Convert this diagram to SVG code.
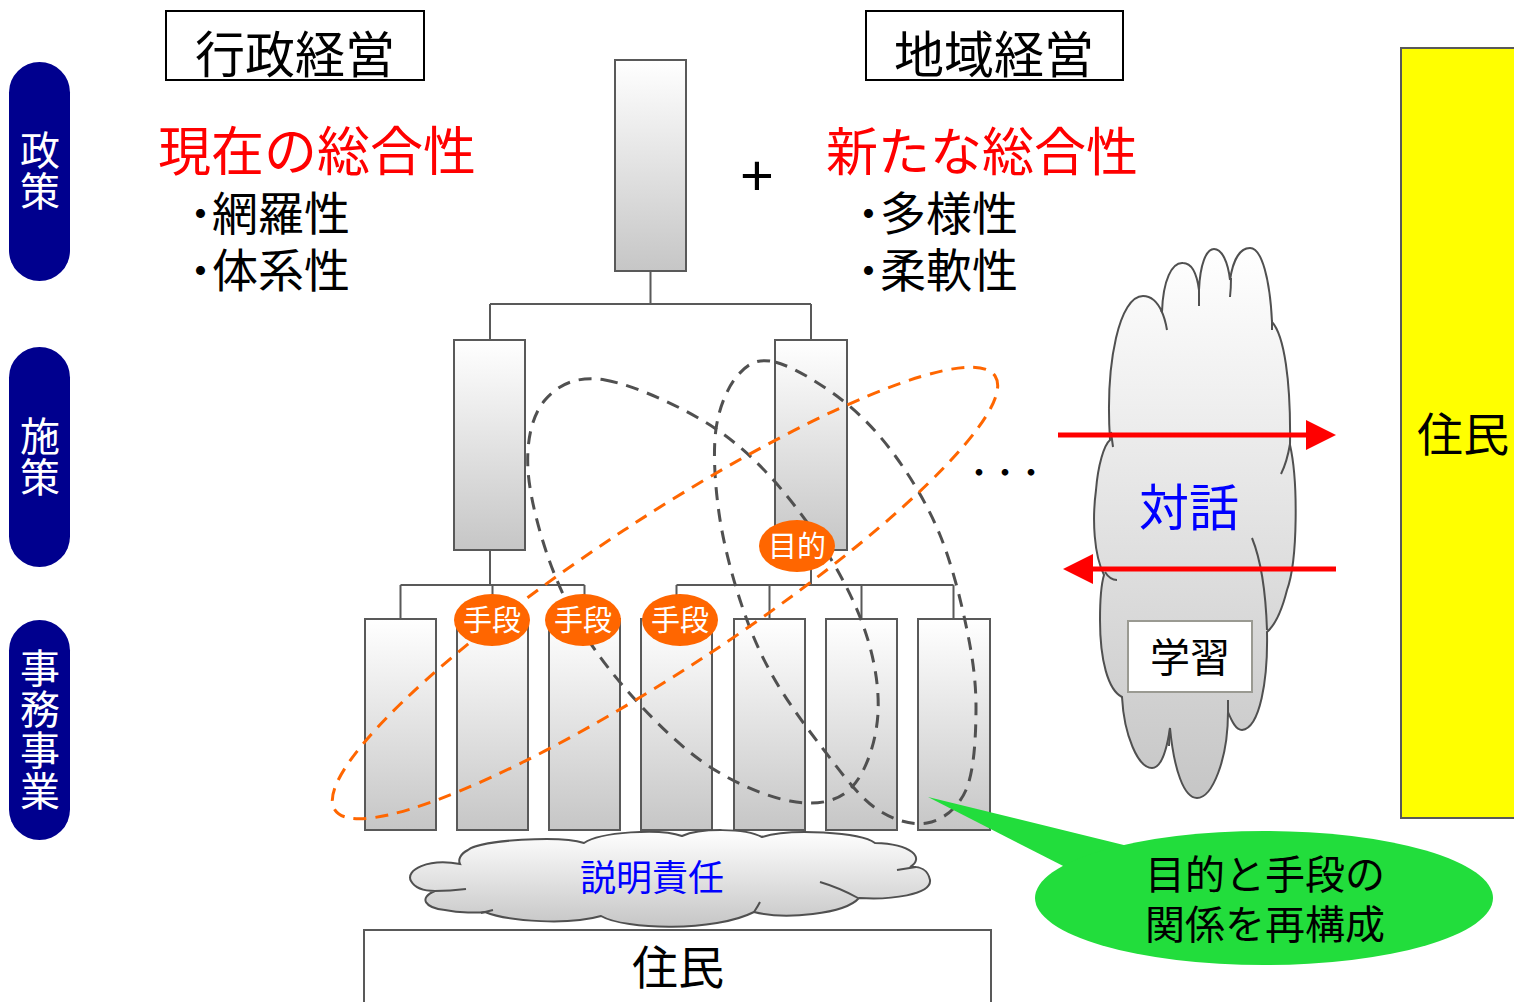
<svg xmlns="http://www.w3.org/2000/svg" width="1514" height="1002" viewBox="0 0 1514 1002">
<style>
.jp{font-family:"Noto Sans CJK JP","Noto Sans CJK SC",sans-serif}
.box{fill:url(#gBox);stroke:#595959;stroke-width:2}
.conn{fill:none;stroke:#595959;stroke-width:2}
.pill{fill:#00008E}
.pilltxt{fill:#fff;font-size:40px;writing-mode:vertical-rl;text-orientation:upright;letter-spacing:1px}
.oval{fill:#FF6600}
.ovaltxt{fill:#fff;font-size:29px;text-anchor:middle}
.gdash{fill:none;stroke:#505050;stroke-width:3;stroke-dasharray:13 9}
.odash{fill:none;stroke:#FF6600;stroke-width:3;stroke-dasharray:13 9}
.cloud{fill:url(#gBox);stroke:#505050;stroke-width:2}
.inner{fill:none;stroke:#505050;stroke-width:2}
.red{stroke:#FF0000;stroke-width:5;fill:none}
.bul{font-weight:bold}
</style>
<defs>
<linearGradient id="gBox" x1="0" y1="0" x2="0" y2="1">
<stop offset="0" stop-color="#FFFFFF"/>
<stop offset="1" stop-color="#C6C6C6"/>
</linearGradient>
<marker id="ah" viewBox="0 0 30 30" markerWidth="30" markerHeight="30" refX="0" refY="15" orient="auto" markerUnits="userSpaceOnUse">
<path d="M0,0 L30,15 L0,30 Z" fill="#FF0000"/>
</marker>
</defs>
<rect width="1514" height="1002" fill="#FFFFFF"/>

<!-- left level pills -->
<g id="pill-seisaku">
<rect class="pill" x="9" y="62" width="61" height="219" rx="30.5"/>
<text class="jp pilltxt" x="40" y="130">政策</text>
</g>
<g id="pill-shisaku">
<rect class="pill" x="9" y="347" width="61" height="220" rx="30.5"/>
<text class="jp pilltxt" x="40" y="416">施策</text>
</g>
<g id="pill-jimujigyo">
<rect class="pill" x="9" y="620" width="61" height="220" rx="30.5"/>
<text class="jp pilltxt" x="40" y="648">事務事業</text>
</g>

<!-- headings -->
<g id="gyosei">
<rect x="166" y="11" width="258" height="69" fill="#FFFFFF" stroke="#000" stroke-width="2"/>
<text class="jp" x="295" y="73" font-size="50" text-anchor="middle" fill="#000">行政経営</text>
</g>
<g id="chiiki">
<rect x="866" y="11" width="257" height="69" fill="#FFFFFF" stroke="#000" stroke-width="2"/>
<text class="jp" x="994" y="73" font-size="50" text-anchor="middle" fill="#000">地域経営</text>
</g>
<g id="genzai">
<text class="jp" x="158" y="171" font-size="53" fill="#FF0000">現在の総合性</text>
<text class="jp" x="189" y="230" font-size="46" fill="#000"><tspan class="bul">･</tspan>網羅性</text>
<text class="jp" x="189" y="287" font-size="46" fill="#000"><tspan class="bul">･</tspan>体系性</text>
</g>
<g id="plus">
<text x="757" y="195" font-family="Liberation Sans, sans-serif" font-size="58" text-anchor="middle" fill="#000">+</text>
</g>
<g id="arata">
<text class="jp" x="826" y="171" font-size="52" fill="#FF0000">新たな総合性</text>
<text class="jp" x="857" y="230" font-size="46" fill="#000"><tspan class="bul">･</tspan>多様性</text>
<text class="jp" x="857" y="287" font-size="46" fill="#000"><tspan class="bul">･</tspan>柔軟性</text>
</g>

<!-- tree connectors -->
<g id="connectors">
<path class="conn" d="M650.5 271 V304 M490 304 H811 M490 304 V340 M811 304 V340"/>
<path class="conn" d="M490 550 V585 M400.5 585 H584.5 M400.5 585 V619 M492.5 585 V619 M584.5 585 V619"/>
<path class="conn" d="M811 550 V585 M676.5 585 H953.5 M676.5 585 V619 M769.5 585 V619 M861.5 585 V619 M953.5 585 V619"/>
</g>

<!-- boxes -->
<g id="top-box"><rect class="box" x="615" y="60" width="71" height="211"/></g>
<g id="mid-box-1"><rect class="box" x="454" y="340" width="71" height="210"/></g>
<g id="mid-box-2"><rect class="box" x="775" y="340" width="72" height="210"/></g>
<g id="low-box-1"><rect class="box" x="365" y="619" width="71" height="211"/></g>
<g id="low-box-2"><rect class="box" x="457" y="619" width="71" height="211"/></g>
<g id="low-box-3"><rect class="box" x="549" y="619" width="71" height="211"/></g>
<g id="low-box-4"><rect class="box" x="641" y="619" width="71" height="211"/></g>
<g id="low-box-5"><rect class="box" x="734" y="619" width="71" height="211"/></g>
<g id="low-box-6"><rect class="box" x="826" y="619" width="71" height="211"/></g>
<g id="low-box-7"><rect class="box" x="918" y="619" width="72" height="211"/></g>

<!-- dashed groupings -->
<g id="loop-a">
<path class="gdash" d="M605 380 C633.5 384.8 683.8 407.3 716 429 C748.2 450.7 774 478.7 798 510 C822 541.3 846.7 583.2 860 617 C873.3 650.8 879.5 684.5 878 713 C876.5 741.5 865.7 773.3 851 788 C836.3 802.7 815.2 805.7 790 801 C764.8 796.3 730 781.8 700 760 C670 738.2 634 700.3 610 670 C586 639.7 569.7 611.3 556 578 C542.3 544.7 529.8 499.7 528 470 C526.2 440.3 532.2 415 545 400 C557.8 385 576.5 375.2 605 380 Z"/>
</g>
<g id="loop-b">
<path class="gdash" d="M775 362 C792.3 366.2 821.8 384.2 842 400 C862.2 415.8 879.7 434.5 896 457 C912.3 479.5 928.2 506.2 940 535 C951.8 563.8 961 600.8 967 630 C973 659.2 976.2 683.3 976 710 C975.8 736.7 974.2 771.2 966 790 C957.8 808.8 942.3 820.2 927 823 C911.7 825.8 891.8 820 874 807 C856.2 794 837.2 767.3 820 745 C802.8 722.7 784.3 697.2 771 673 C757.7 648.8 748.7 626.7 740 600 C731.3 573.3 723 541.5 719 513 C715 484.5 712.8 452 716 429 C719.2 406 728.2 386.2 738 375 C747.8 363.8 757.7 357.8 775 362 Z"/>
</g>
<g id="loop-orange">
<ellipse class="odash" cx="665" cy="593" rx="395" ry="75" transform="rotate(-33.3 665 593)"/>
</g>

<!-- purpose / means badges -->
<g id="mokuteki">
<ellipse class="oval" cx="797" cy="546" rx="38" ry="26"/>
<text class="jp ovaltxt" x="797" y="557">目的</text>
</g>
<g id="shudan-1">
<ellipse class="oval" cx="492" cy="620" rx="38" ry="26"/>
<text class="jp ovaltxt" x="492" y="631">手段</text>
</g>
<g id="shudan-2">
<ellipse class="oval" cx="583" cy="620" rx="38" ry="26"/>
<text class="jp ovaltxt" x="583" y="631">手段</text>
</g>
<g id="shudan-3">
<ellipse class="oval" cx="680" cy="620" rx="38" ry="26"/>
<text class="jp ovaltxt" x="680" y="631">手段</text>
</g>

<g id="ellipsis">
<text class="jp" x="966" y="482" font-size="26" font-weight="bold" fill="#000">・・・</text>
</g>

<!-- dialogue cloud -->
<g id="taiwa-cloud">
<path class="cloud" d="M1110 440 C1105 360 1120 296 1143 296 C1152 296 1158 303 1162 312 C1163 280 1172 262 1183 263 C1192 263 1197 275 1199 290 C1200 265 1206 249 1214 249 C1222 249 1228 262 1230 280 C1233 260 1240 248 1250 248 C1262 248 1270 280 1272 322 C1284 335 1291 380 1290 445 C1298 480 1298 560 1287 590 C1282 610 1275 625 1267 632 C1268 680 1260 728 1242 730 C1236 730 1232 722 1228 712 C1228 760 1212 798 1197 798 C1184 798 1174 770 1170 728 C1166 755 1160 768 1152 768 C1138 768 1124 735 1122 697 C1108 690 1100 660 1100 620 C1100 600 1101 585 1104 575 C1094 555 1092 520 1096 490 C1098 465 1104 445 1110 440 Z"/>
<path class="inner" d="M1161 310 Q1165 318 1167 330 M1199 288 L1199 306 M1231 278 Q1231 288 1230 297 M1272 320 L1272 330 M1290 444 Q1287 462 1281 474 M1252 538 Q1265 570 1267 630 M1105 572 Q1110 580 1117 580 M1170 728 L1169 746 M1228 700 L1228 712 M1111 432 L1113 447"/>
<text class="jp" x="1189" y="526" font-size="50" text-anchor="middle" fill="#0000FF">対話</text>
</g>
<g id="gakushu">
<rect x="1128" y="621" width="124" height="71" fill="#FFFFFF" stroke="#9A9A92" stroke-width="2"/>
<text class="jp" x="1190" y="672" font-size="40" text-anchor="middle" fill="#000">学習</text>
</g>
<g id="arrows">
<line class="red" x1="1058" y1="435" x2="1306" y2="435" marker-end="url(#ah)"/>
<line class="red" x1="1336" y1="569" x2="1093" y2="569" marker-end="url(#ah)"/>
</g>

<!-- residents (right) -->
<g id="jumin-right">
<rect x="1401" y="48" width="120" height="770" fill="#FFFF00" stroke="#595959" stroke-width="2"/>
<text class="jp" x="1417" y="451" font-size="46" fill="#000">住民</text>
</g>

<!-- accountability cloud -->
<g id="setsumei-cloud">
<path class="cloud" d="M460 864 C428 858 405 870 411 881 C415 888 425 891 435 891 C418 898 425 908 445 910 C460 913 478 913 485 912 C510 922 570 925 601 916 C625 930 715 932 754 912 C785 920 845 914 859 898 C890 900 932 895 930 880 C928 870 920 866 910 867 C925 858 912 844 875 843 C860 832 790 828 762 837 C745 828 700 828 682 836 C660 828 600 832 584 843 C560 835 480 840 468 850 C460 854 458 860 460 864 Z"/>
<path class="inner" d="M466 889 Q450 891 435 891 M493 910 L481 913 M858 898 Q840 888 820 882 M897 870 L916 867 M754 912 Q758 906 760 902"/>
<text class="jp" x="652" y="891" font-size="36" text-anchor="middle" fill="#0000FF">説明責任</text>
</g>

<!-- residents (bottom) -->
<g id="jumin-bottom">
<rect x="364" y="930" width="627" height="80" fill="#FFFFFF" stroke="#595959" stroke-width="2"/>
<text class="jp" x="678" y="984" font-size="46" text-anchor="middle" fill="#000">住民</text>
</g>

<!-- callout -->
<g id="callout">
<path d="M928 797 L1140 849 L1075 872 Z" fill="#22DD3C"/>
<ellipse cx="1264" cy="898" rx="229" ry="67" fill="#22DD3C"/>
<text class="jp" x="1265" y="889" font-size="40" text-anchor="middle" fill="#000">目的と手段の</text>
<text class="jp" x="1265" y="939" font-size="40" text-anchor="middle" fill="#000">関係を再構成</text>
</g>
</svg>
